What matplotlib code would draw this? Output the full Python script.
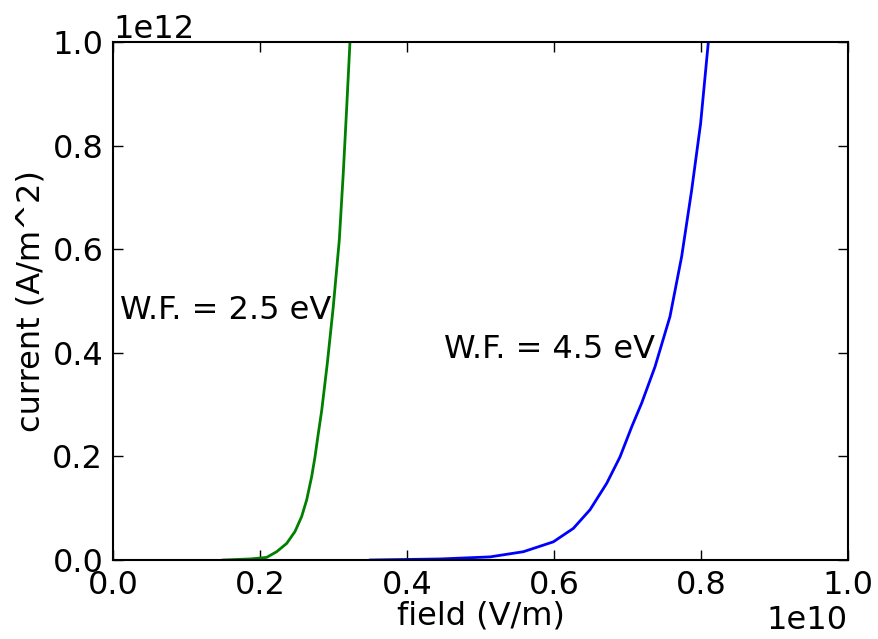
import numpy as np
import matplotlib.pyplot as plt

# field emission current density vs applied field, two work functions
# field in units of 1e10 V/m, current in units of 1e12 A/m^2
field_wf25 = [0.15, 0.1864, 0.209, 0.2227, 0.2363, 0.2476, 0.2567, 0.2635,
              0.2703, 0.2748, 0.2794, 0.2839, 0.2916, 0.2997,
              0.3079, 0.3133, 0.318, 0.3224]
current_wf25 = [0.0, 0.002, 0.005, 0.016, 0.032, 0.055, 0.084, 0.116,
                0.161, 0.199, 0.245, 0.288, 0.380, 0.489,
                0.618, 0.747, 0.875, 1.0]

field_wf45 = [0.35, 0.4449, 0.5129, 0.5583, 0.599, 0.6263, 0.649, 0.6717,
              0.6898, 0.7057, 0.7193, 0.7374, 0.7578, 0.7737, 0.7873,
              0.7995, 0.810]
current_wf45 = [0.0, 0.002, 0.006, 0.016, 0.035, 0.061, 0.097, 0.148,
                0.199, 0.257, 0.303, 0.373, 0.470, 0.586, 0.714,
                0.843, 1.0]

plt.rcParams['font.size'] = 23

fig = plt.figure(figsize=(8.79, 6.39), dpi=100)
ax = fig.add_axes([113 / 879, 1 - 560 / 639, 735 / 879, 518 / 639])

ax.plot(np.array(field_wf25) * 1e10, np.array(current_wf25) * 1e12,
        color='g', linewidth=2)
ax.plot(np.array(field_wf45) * 1e10, np.array(current_wf45) * 1e12,
        color='b', linewidth=2)

ax.text(0.01e10, 0.465e12, 'W.F. = 2.5 eV')
ax.text(0.45e10, 0.39e12, 'W.F. = 4.5 eV')

ax.set_xlim(0, 1e10)
ax.set_ylim(0, 1e12)
ax.set_xticks(np.arange(0, 1.01, 0.2) * 1e10)
ax.set_yticks(np.arange(0, 1.01, 0.2) * 1e12)
ax.tick_params(direction='in', length=7, width=1, top=True, right=True,
               pad=7, labelsize=23)
for s in ax.spines.values():
    s.set_linewidth(1.5)

ax.set_xlabel('field (V/m)', labelpad=0)
ax.set_ylabel('current (A/m^2)', labelpad=4)

fig.savefig('out.png', dpi=100)
